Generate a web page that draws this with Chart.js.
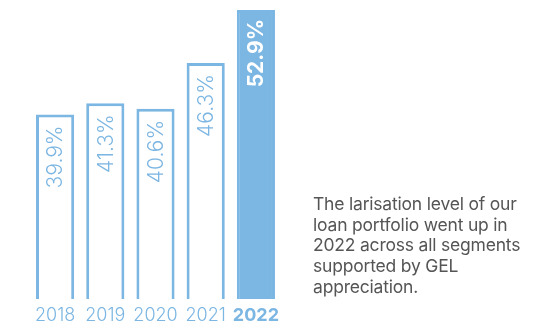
<!DOCTYPE html>
<html><head><meta charset="utf-8">
<script src="https://cdn.jsdelivr.net/npm/chart.js@4"></script>
<style>
html,body{margin:0;padding:0;background:#fff;}
#wrap{position:relative;width:556px;height:325px;}
#c{position:absolute;left:0;top:0;}
#note{position:absolute;left:313px;top:194px;width:243px;font-family:Inter,"Open Sans",sans-serif;font-weight:400;font-size:17.5px;line-height:20.7px;color:#555;white-space:nowrap;letter-spacing:-0.2px;}
</style></head>
<body>
<div id="wrap"><canvas id="c" width="556" height="325"></canvas>
<div id="note">The larisation level of our<br>loan portfolio went up in<br>2022 across all segments<br>supported by GEL<br>appreciation.</div></div>
<script>
const years = ["2018","2019","2020","2021","2022"];
const shares = [39.9, 41.3, 40.6, 46.3, 52.9];
const valueLabels = ["39.9%","41.3%","40.6%","46.3%","52.9%"];
const BLUE = "#7cb6e2";
const FONT = "Inter, 'Open Sans', sans-serif";

const labelPlugin = {
  id:'vlabels',
  afterDatasetsDraw(chart){
    const ctx = chart.ctx;
    const meta = chart.getDatasetMeta(0);
    meta.data.forEach((bar,i)=>{
      const last = i === years.length-1;
      ctx.save();
      ctx.translate(bar.x, bar.y + (last ? 9 : 11));
      ctx.rotate(-Math.PI/2);
      ctx.textAlign = 'right';
      ctx.textBaseline = 'middle';
      ctx.fillStyle = last ? '#fff' : BLUE;
      ctx.font = (last ? '700 ' : '300 ') + '21px ' + FONT;
      ctx.fillText(valueLabels[i], 0, 1);
      ctx.restore();
    });
  }
};

new Chart(document.getElementById('c'), {
  type:'bar',
  data:{labels:years, datasets:[{
    data:shares,
    backgroundColor: years.map((y,i)=> i===years.length-1 ? BLUE : '#fff'),
    borderColor: BLUE,
    borderWidth: 3,
    borderSkipped: false,
    barPercentage: 0.76,
    categoryPercentage: 1
  }]},
  options:{
    responsive:false, animation:false,
    layout:{padding:{left:30,right:275,top:10,bottom:0}},
    plugins:{legend:{display:false},tooltip:{enabled:false}},
    scales:{
      y:{display:false,min:16.94,max:52.9},
      x:{
        grid:{display:false,drawTicks:false},
        border:{display:false},
        afterFit(s){ s.height = 26; },
        ticks:{
          padding:6,
          minRotation:0, maxRotation:0, autoSkip:false,
          color:BLUE,
          font:(c)=>({family:FONT, size:18, weight: c.index===years.length-1 ? '700':'300'})
        }
      }
    }
  },
  plugins:[labelPlugin]
});
</script>
</body></html>
